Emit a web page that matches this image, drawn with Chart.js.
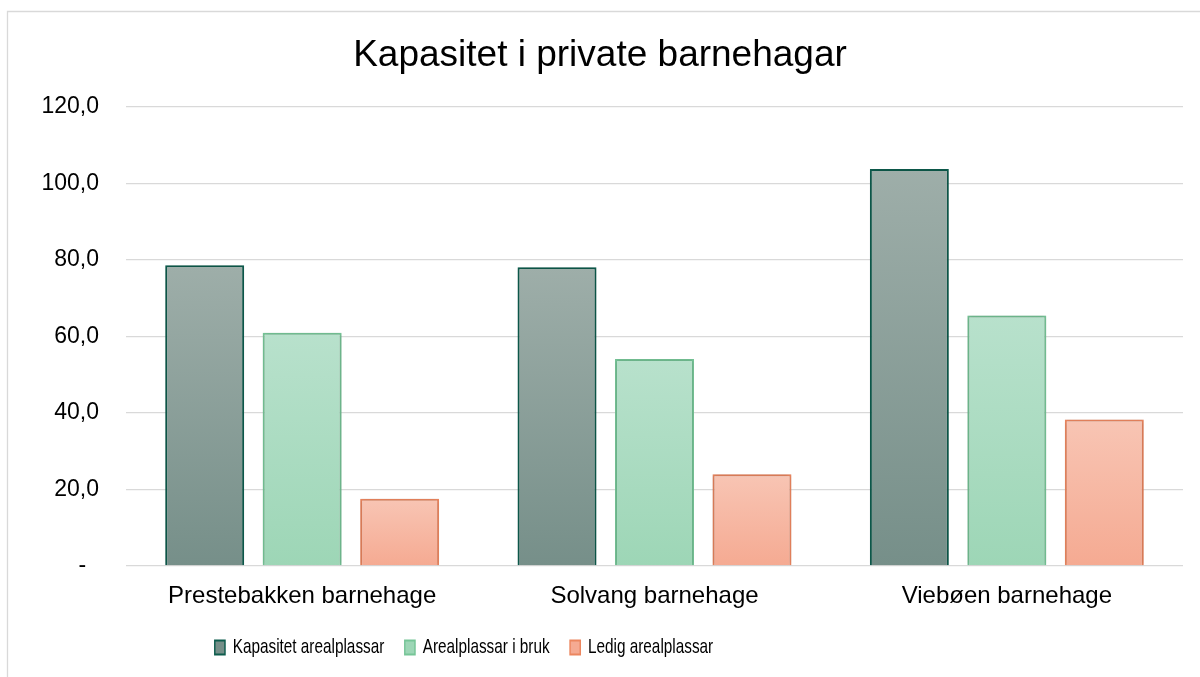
<!DOCTYPE html>
<html>
<head>
<meta charset="utf-8">
<script src="https://cdn.jsdelivr.net/npm/chart.js@4/dist/chart.umd.min.js"></script>
<style>
  html, body { margin: 0; padding: 0; background: #ffffff; }
  #wrap { width: 1200px; height: 677px; }
</style>
</head>
<body>
<div id="wrap"><canvas id="c" width="1200" height="677"></canvas></div>
<script>
const categories = ['Prestebakken barnehage', 'Solvang barnehage', 'Viebøen barnehage'];
const kapasitet = [78.6, 78.1, 103.8];
const iBruk = [61.0, 54.1, 65.5];
const ledig = [17.6, 24.0, 38.3];
const yTicks = [0, 20, 40, 60, 80, 100, 120];
const seriesNames = ['Kapasitet arealplassar', 'Arealplassar i bruk', 'Ledig arealplassar'];

const FONT = "'Liberation Sans', Arial, sans-serif";

function gradientFill(topColor, bottomColor, solid) {
  return function (ctx) {
    const chart = ctx.chart;
    if (ctx.type !== 'data' || !chart.scales || !chart.scales.y || typeof ctx.raw !== 'number') return solid;
    const y = chart.scales.y;
    const top = y.getPixelForValue(ctx.raw);
    const bot = y.getPixelForValue(0);
    if (!isFinite(top) || !isFinite(bot) || top === bot) return solid;
    const g = chart.ctx.createLinearGradient(0, top, 0, bot);
    g.addColorStop(0, topColor);
    g.addColorStop(1, bottomColor);
    return g;
  };
}

const framePlugin = {
  id: 'frame',
  beforeDraw(chart) {
    const c = chart.ctx;
    c.save();
    c.fillStyle = '#ffffff';
    c.fillRect(0, 0, chart.width, chart.height);
    c.strokeStyle = '#d9d9d9';
    c.lineWidth = 1.3;
    c.beginPath();
    c.moveTo(7.5, chart.height);
    c.lineTo(7.5, 11.5);
    c.lineTo(chart.width, 11.5);
    c.stroke();
    c.restore();
  }
};

const shadowPlugin = {
  id: 'barShadow',
  beforeDatasetsDraw(chart) {
    const c = chart.ctx;
    c.save();
    c.shadowColor = 'rgba(0,0,0,0.22)';
    c.shadowBlur = 4;
    c.shadowOffsetX = 0;
    c.shadowOffsetY = 0;
  },
  afterDatasetsDraw(chart) {
    chart.ctx.restore();
  }
};

// Legend: centred at x=464, text drawn horizontally condensed like the reference
const LEGEND_CENTER = 464;
const LEGEND_SCALE = 0.73;
const LEGEND_TEXT_Y = 647.5;
const boxPlacement = {
  id: 'boxPlacement',
  afterLayout(chart) {
    const t = chart.titleBlock;
    if (t) { t.left = 0; t.right = chart.width; t.width = chart.width; }
    const lg = chart.legend;
    if (lg) {
      lg.left = LEGEND_CENTER - 464;
      lg.right = LEGEND_CENTER + 464;
      lg.width = 928;
      if (!lg._condensed) {
        lg._condensed = true;
        const orig = lg.draw;
        lg.draw = function () {
          if (!this.options.display) return;
          const c = this.ctx;
          const pad = this.options.labels.padding;
          const fs = this.options.labels.font.size;
          const currentMid = this.top + pad + fs / 2;
          const cx = (this.left + this.right) / 2;
          c.save();
          c.translate(cx, LEGEND_TEXT_Y - currentMid);
          c.scale(LEGEND_SCALE, 1);
          c.translate(-cx, 0);
          if (typeof this._draw === 'function') this._draw(); else orig.apply(this, arguments);
          c.restore();
        };
      }
    }
  }
};

new Chart(document.getElementById('c'), {
  type: 'bar',
  data: {
    labels: categories,
    datasets: [
      {
        label: seriesNames[0],
        data: kapasitet,
        backgroundColor: gradientFill('#9eaea9', '#768f89', '#8a9f99'),
        borderColor: '#0d5c4d',
        borderWidth: 2
      },
      {
        label: seriesNames[1],
        data: iBruk,
        backgroundColor: gradientFill('#b8e1cc', '#9dd6b6', '#abdcc1'),
        borderColor: '#76c597',
        borderWidth: 2
      },
      {
        label: seriesNames[2],
        data: ledig,
        backgroundColor: gradientFill('#f8c5b4', '#f5aa92', '#f6b8a3'),
        borderColor: '#ec865f',
        borderWidth: 2
      }
    ]
  },
  options: {
    responsive: false,
    animation: false,
    devicePixelRatio: 1,
    categoryPercentage: 0.83,
    barPercentage: 0.81,
    layout: { padding: { left: 0, right: 17, top: 0, bottom: 21 } },
    plugins: {
      title: {
        display: true,
        text: 'Kapasitet i private barnehagar',
        color: '#000000',
        font: { family: FONT, size: 37, weight: 'normal', lineHeight: 1.2 },
        padding: { top: 34, bottom: 28.6 }
      },
      legend: {
        display: true,
        position: 'bottom',
        align: 'center',
        maxHeight: 38,
        labels: {
          color: '#000000',
          font: { family: FONT, size: 21 },
          boxWidth: 14,
          boxHeight: 14,
          padding: 28
        }
      },
      tooltip: { enabled: false }
    },
    scales: {
      x: {
        grid: { display: false, drawTicks: false },
        border: { display: false },
        afterFit(scale) { scale.height = 52; },
        ticks: {
          color: '#000000',
          font: { family: FONT, size: 24, lineHeight: 1.2 },
          padding: 16,
          maxRotation: 0
        }
      },
      y: {
        min: 0,
        max: 120,
        afterBuildTicks(scale) {
          scale.ticks = yTicks.map(v => ({ value: v }));
        },
        afterFit(scale) { scale.width = 126; },
        grid: { color: '#d9d9d9', lineWidth: 1.3, drawTicks: false },
        border: { display: false },
        ticks: {
          color: '#000000',
          font: { family: FONT, size: 23 },
          padding: 27,
          callback(v) { return v === 0 ? '-  ' : v.toFixed(1).replace('.', ','); }
        }
      }
    }
  },
  plugins: [framePlugin, shadowPlugin, boxPlacement]
});
</script>
</body>
</html>
